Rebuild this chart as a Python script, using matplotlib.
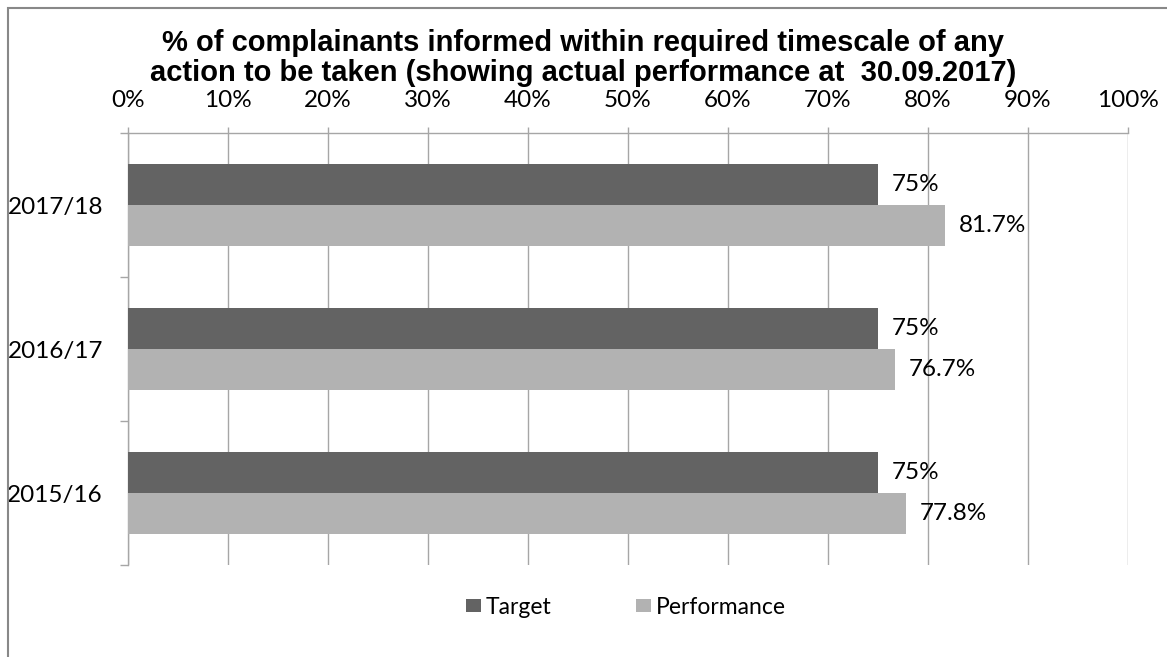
import matplotlib
matplotlib.use('Agg')
import matplotlib.pyplot as plt
import matplotlib.patches as patches
from matplotlib.ticker import MultipleLocator, FuncFormatter

# Data
categories = ['2017/18', '2016/17', '2015/16']
target = [75, 75, 75]
performance = [81.7, 76.7, 77.8]
target_labels = ['75%', '75%', '75%']
performance_labels = ['81.7%', '76.7%', '77.8%']

title = ('% of complainants informed within required timescale of any\n'
         'action to be taken (showing actual performance at  30.09.2017)')

TARGET_COLOR = '#636363'
PERF_COLOR = '#b2b2b2'
GRID_COLOR = '#a6a6a6'
LABEL_FONT = 'Lato'
LABEL_SIZE = 17.5

W, H = 1167, 657
fig = plt.figure(figsize=(W / 100, H / 100), dpi=100)

# outer chart border (only left and top edges fall inside the picture)
fig.patches.append(patches.Rectangle((8 / W, -0.2), 1.5, 1.2 - 8 / H,
                                     transform=fig.transFigure, fill=False,
                                     edgecolor='#888888', linewidth=1.5))

left, right, top, bottom = 128, 1128, 133, 565
ax = fig.add_axes([left / W, 1 - bottom / H, (right - left) / W, (bottom - top) / H])

ypos = list(range(len(categories)))
h = 0.285
ax.barh([y - h / 2 for y in ypos], [t / 100 for t in target], height=h,
        color=TARGET_COLOR, label='Target', zorder=3)
ax.barh([y + h / 2 for y in ypos], [p / 100 for p in performance], height=h,
        color=PERF_COLOR, label='Performance', zorder=3)

# value labels
for y, t, lab in zip(ypos, target, target_labels):
    ax.annotate(lab, (t / 100, y - h / 2), xytext=(10, 0), textcoords='offset points',
                va='center', ha='left', fontsize=LABEL_SIZE, family=LABEL_FONT, zorder=4)
for y, p, lab in zip(ypos, performance, performance_labels):
    ax.annotate(lab, (p / 100, y + h / 2), xytext=(10, 0), textcoords='offset points',
                va='center', ha='left', fontsize=LABEL_SIZE, family=LABEL_FONT, zorder=4)

ax.set_xlim(0, 1)
ax.set_ylim(len(categories) - 0.5, -0.5)

# x axis on top
ax.xaxis.tick_top()
ax.xaxis.set_major_locator(MultipleLocator(0.1))
ax.xaxis.set_major_formatter(FuncFormatter(lambda v, _: f'{v * 100:.0f}%'))
ax.tick_params(axis='x', which='major', length=4.5, width=1, color=GRID_COLOR,
               labelsize=LABEL_SIZE, pad=11)
ax.grid(axis='x', color=GRID_COLOR, linewidth=1, zorder=0)

# categories on the left, ticks between groups
ax.set_yticks(ypos)
ax.set_yticklabels(categories)
ax.set_yticks([y - 0.5 for y in range(len(categories) + 1)], minor=True)
ax.tick_params(axis='y', which='major', length=0, labelsize=LABEL_SIZE, pad=18)
ax.tick_params(axis='y', which='minor', length=6, width=1, color=GRID_COLOR)
for lab in ax.get_xticklabels() + ax.get_yticklabels():
    lab.set_family(LABEL_FONT)

for side in ['right', 'bottom']:
    ax.spines[side].set_visible(False)
for side in ['left', 'top']:
    ax.spines[side].set_color(GRID_COLOR)
    ax.spines[side].set_linewidth(1)

fig.text(0.5, 1 - 58 / H, title, ha='center', va='center', fontsize=21,
         fontweight='bold', family='Liberation Sans', linespacing=1.12)

fig.legend(loc='center', bbox_to_anchor=(626 / W, 1 - 607 / H), ncol=2, frameon=False,
           handlelength=0.65, handleheight=0.52, handletextpad=0.22, columnspacing=3.7,
           prop={'family': LABEL_FONT, 'size': 16.5})

fig.savefig('out.png', dpi=100, facecolor='white')
